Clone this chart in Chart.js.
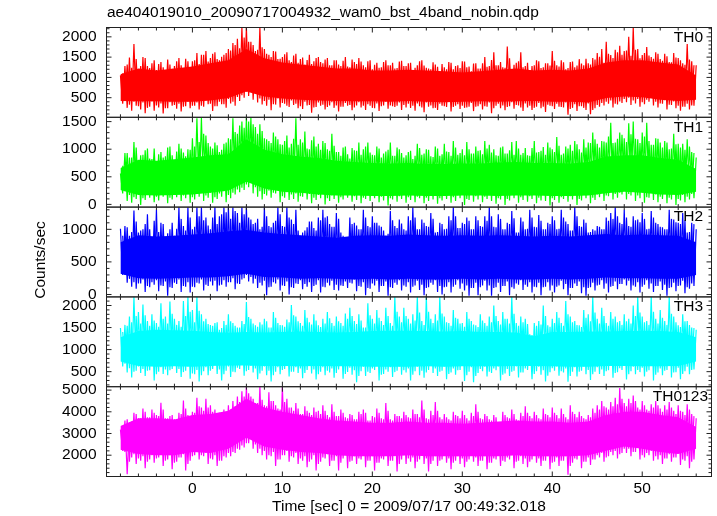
<!DOCTYPE html>
<html>
<head>
<meta charset="utf-8">
<title>ae404019010 bst 4band</title>
<script src="https://cdn.jsdelivr.net/npm/chart.js@4/dist/chart.umd.min.js"></script>
<style>
  html, body { margin: 0; padding: 0; background: #fff; }
  canvas { display: block; }
</style>
</head>
<body>
<canvas id="lc" width="717" height="516"></canvas>
<script>
/* peaks and dips, one row = 8 sec, half second steps from -8 */
const th0High = [
  1050,1280,1490,1820,1100,1500,1280,1350,1180,1380,1120,1320,1280,1480,1150,1400,
  1400,1600,1560,1650,1480,1620,1420,1560,1700,1850,1950,2230,2230,1880,1650,2230,
  1700,1560,1650,1450,1500,1620,1380,1580,1450,1320,1560,1400,1500,1350,1480,1300,
  1420,1280,1500,1250,1380,1480,1300,1400,1200,1360,1250,1420,1300,1220,1390,1280,
  1350,1180,1300,1420,1240,1200,1320,1150,1250,1380,1200,1300,1400,1250,1150,1350,
  1220,1500,1280,1620,1300,1250,1760,1200,1360,1620,1280,1180,1300,1400,1250,1350,
  1650,1300,1420,1200,1380,1250,1450,1300,1350,1480,1600,1700,1880,1550,1680,1780,
  1650,2000,2230,1700,1550,1750,1500,1620,1450,1580,1380,1600,1480,1350,1820,1400,
  1300];
const th0Low = [
  350,250,180,300,210,120,280,180,260,110,240,300,230,160,290,240,
  300,210,280,340,170,290,340,250,360,300,420,500,540,450,380,330,
  300,190,330,260,350,270,320,240,220,310,130,270,300,210,310,250,
  160,280,300,190,310,260,200,300,240,170,310,230,290,300,200,260,
  250,180,290,140,280,240,200,300,270,160,300,220,250,280,170,290,
  210,280,120,300,240,190,290,230,310,170,260,200,280,240,150,300,
  220,280,260,80,250,170,290,200,90,240,280,310,350,260,330,370,
  390,320,360,280,340,400,310,260,350,210,320,240,180,280,210,300,
  330];
const th0ShoulderTop = [
  1100,1320,1240,1450,1280,1480,1230,1420,1330,1250,1440,1210,1400,1300,1460,1240,
  1420,1330,1560,1390,1580,1450,1510,1600,1660,1800,1720,1980,1880,1800,1680,1740,
  1580,1500,1640,1460,1570,1420,1540,1360,1490,1430,1330,1480,1380,1440,1300,1420,
  1320,1410,1270,1440,1330,1390,1250,1420,1310,1240,1380,1300,1360,1230,1410,1280,
  1360,1240,1400,1290,1220,1370,1260,1330,1200,1360,1280,1230,1390,1270,1340,1220,
  1350,1260,1430,1300,1380,1240,1470,1310,1400,1250,1360,1280,1420,1230,1350,1290,
  1410,1270,1370,1230,1390,1290,1340,1460,1320,1440,1510,1360,1580,1480,1620,1560,
  1660,1530,1680,1470,1600,1540,1460,1580,1410,1520,1370,1490,1420,1310,1440,1300,
  1150];
const th0ShoulderBottom = [
  420,330,400,290,380,250,410,310,360,240,390,320,350,280,400,300,
  380,300,430,350,290,400,340,470,400,520,560,650,690,600,480,420,
  450,340,480,370,300,430,350,290,400,320,260,380,330,270,390,310,
  280,370,320,260,390,300,340,250,360,290,400,310,270,380,320,350,
  300,360,260,380,310,250,350,290,400,270,340,300,260,370,280,340,
  290,380,240,350,310,270,390,320,260,360,300,250,370,280,330,290,
  350,270,380,220,340,290,250,360,200,320,370,400,430,350,410,470,
  500,430,470,390,450,520,400,360,440,330,410,300,280,350,310,380,
  420];
const th1High = [
  560,930,850,1130,780,900,1010,820,760,950,870,1050,800,1100,940,1000,
  1200,1560,1570,1250,1050,1120,950,1100,1200,1560,1280,1500,1570,1570,1400,1450,
  1200,1150,1300,1180,1080,1250,1100,1560,1180,1320,1000,1230,1100,1150,1000,1280,
  950,880,1050,830,980,1120,1000,1120,900,1050,850,960,1120,880,1000,850,
  950,820,1100,900,1000,870,1050,880,1100,950,1150,900,1000,1130,920,1050,
  980,1150,1080,1000,880,1050,920,1130,1150,900,1020,880,1150,950,1040,1120,
  1000,1220,900,1050,1080,1150,1000,1180,1120,1300,1100,1150,1120,1480,1120,1300,
  1200,1470,1500,1180,1300,1480,1080,1200,1120,1150,1000,1280,1100,1100,1180,950,
  850];
const th1Low = [
  200,60,30,100,-10,80,120,40,70,140,20,90,130,60,110,30,
  90,140,60,120,30,100,140,40,110,180,220,260,310,200,140,90,
  160,120,200,40,120,80,100,50,140,90,20,80,110,0,60,100,
  30,90,120,50,80,20,100,60,110,40,70,-20,90,50,100,30,
  80,40,110,20,60,90,10,70,100,30,60,110,-10,80,50,90,
  40,100,60,10,90,-10,70,110,30,80,50,100,20,70,60,-20,
  80,30,100,50,90,-10,70,110,20,80,130,60,150,90,120,180,
  90,160,60,110,30,120,80,40,100,20,90,-10,70,40,90,110,
  160];
const th1ShoulderTop = [
  700,930,850,1030,890,980,830,1010,910,850,1030,890,960,1010,870,990,
  1050,1130,1280,1110,1010,1070,990,1120,1180,1310,1430,1390,1500,1450,1280,1330,
  1180,1110,1230,1090,1150,1030,1190,1080,1120,1010,1160,1050,990,1110,970,1060,
  950,1030,910,1020,970,900,1050,940,890,1010,920,990,880,1030,930,890,
  970,880,1020,920,990,860,1010,910,960,880,1030,930,890,1000,920,970,
  910,1010,940,890,1030,920,980,900,1010,930,890,1020,940,970,900,1030,
  950,1060,920,1010,970,1090,940,1030,1110,1180,1030,1140,1230,1110,1190,1260,
  1130,1270,1190,1110,1230,1150,1080,1190,1030,1120,1010,1090,1030,990,1050,930,
  750];
const th1ShoulderBottom = [
  240,170,130,200,110,180,210,140,170,230,120,190,220,160,200,130,
  190,230,160,210,130,200,240,170,210,270,300,360,400,310,240,190,
  250,210,280,150,220,180,200,150,230,190,120,170,200,110,160,190,
  130,190,210,150,180,120,190,160,200,140,170,110,190,150,200,130,
  180,140,200,120,160,190,110,170,190,130,160,200,100,180,150,190,
  140,200,160,110,190,100,170,200,130,180,150,190,120,170,160,110,
  180,130,200,150,190,100,170,200,120,180,220,160,240,190,210,260,
  190,250,160,210,130,220,180,140,200,120,190,100,170,140,190,210,
  230];
const th2High = [
  1010,1050,900,1290,950,1000,1230,880,1300,1100,850,1000,900,1340,1050,1340,
  1000,1340,1340,1180,1000,1340,1200,1340,1340,1340,1250,1340,1340,1150,1100,1000,
  1340,1050,1100,1340,1050,1340,1150,1300,900,980,1120,1020,1180,1300,1200,1040,
  1250,950,760,1180,1100,1000,1300,1050,1200,1100,1040,900,1280,1050,1150,1000,
  1200,1340,1000,1150,1050,1250,950,1100,1000,1200,1340,1020,1100,1180,1000,1200,
  1050,1200,1340,1040,1230,1000,1100,1280,950,1180,1000,1300,1040,1220,1000,1100,
  1200,1000,1300,1120,980,1340,1050,1150,950,1000,1050,1000,1180,1250,1340,1100,
  1300,1050,1200,1150,1250,1000,1280,1100,1040,1000,1300,1150,1100,1250,950,1100,
  1000];
const th2Low = [
  300,180,120,90,170,40,110,150,50,130,-20,100,160,40,120,30,
  110,170,60,130,140,50,150,120,190,80,160,250,200,170,100,140,
  -10,120,170,60,130,0,100,160,80,120,40,150,30,110,140,70,
  60,130,100,170,50,120,-10,90,140,40,130,-20,100,150,60,120,
  30,140,70,-10,110,150,40,0,120,30,150,90,60,-20,100,-10,
  140,60,-20,110,40,130,-10,90,150,70,120,30,110,-10,120,60,
  30,140,80,-10,100,130,20,-20,110,60,150,90,30,130,80,160,
  140,60,120,30,150,90,40,130,70,-20,110,50,140,20,90,130,
  250];
const th2ShoulderTop = [
  900,1030,960,1120,980,1080,1000,1130,960,1080,940,1100,1010,1160,980,1180,
  1040,1200,1140,1060,1180,1080,1230,1260,1160,1280,1100,1230,1180,1080,1160,1040,
  1200,1030,1130,1230,1040,1180,1080,980,950,1030,1120,980,1140,1180,1080,1040,
  1160,900,820,1080,1060,1000,1180,1030,1100,1060,980,930,1140,1020,1090,980,
  1140,1180,1000,1100,1040,1160,960,1080,1010,1140,1200,1020,1080,1130,1000,1140,
  1040,1130,1200,1030,1160,1000,1080,1170,950,1120,1010,1180,1030,1130,1000,1080,
  1140,1010,1180,1080,980,1200,1040,1100,960,980,1040,1000,1130,1160,1200,1080,
  1180,1040,1140,1110,1160,1010,1180,1080,1030,1000,1160,1110,1080,1140,960,1080,
  900];
const th2ShoulderBottom = [
  300,240,190,170,230,130,190,220,140,200,110,180,230,130,190,120,
  180,230,150,200,210,140,220,190,250,170,230,300,270,240,180,210,
  110,190,230,140,200,110,170,220,160,190,130,220,120,180,210,150,
  140,200,180,230,130,190,100,170,210,130,200,110,180,220,140,190,
  120,210,150,100,180,220,130,110,190,120,220,170,140,100,180,110,
  210,140,100,180,130,200,110,170,220,150,190,120,180,110,190,140,
  120,210,160,100,170,200,110,100,180,140,220,170,120,200,160,230,
  210,140,190,120,220,170,130,200,150,100,180,130,210,110,170,200,
  300];
const th3High = [
  1490,1560,1750,2195,1850,2020,1650,1800,1600,2050,1750,2090,1700,1650,2100,2195,
  1900,2195,1800,1700,1560,1600,1450,1650,1800,1600,1500,1650,2080,1700,1550,1620,
  1700,1500,1850,1600,1550,1680,2010,1750,1600,1900,1620,1800,1550,1700,1850,1600,
  1750,1600,1820,1950,1650,1800,1500,2050,1700,1900,1650,1950,1600,2195,1750,1950,
  1700,1800,2195,1650,2195,1700,1800,2195,1750,1600,1900,1700,1600,1850,1650,1550,
  1800,1600,1750,2000,1650,1850,1700,2195,1600,1750,1700,1350,1600,1650,2000,1550,
  1700,1850,1600,2100,1750,1650,1550,1900,1800,2195,1700,1950,1600,1850,1750,1650,
  1800,1700,2000,2195,1750,1650,2195,1700,1900,1650,2195,1750,1550,1800,1650,1500,
  1450];
const th3Low = [
  620,480,370,520,470,400,530,300,500,450,420,560,470,380,520,340,
  440,280,510,420,560,450,300,520,380,490,560,410,540,480,330,520,
  420,280,500,440,560,390,500,470,350,540,460,320,500,420,480,360,
  550,340,490,430,260,510,400,470,540,300,450,500,380,520,430,480,
  300,510,420,360,540,470,400,520,330,480,430,540,290,500,260,470,
  510,390,470,530,300,460,400,520,370,480,540,330,510,430,280,490,
  520,410,480,270,500,390,520,440,310,500,450,400,530,360,490,540,
  320,510,440,490,390,530,300,480,420,540,370,490,330,510,440,550,
  560];
const th3ShoulderTop = [
  1400,1540,1620,1760,1590,1780,1540,1660,1520,1700,1590,1810,1560,1520,1760,1860,
  1620,1880,1640,1580,1540,1620,1490,1560,1640,1540,1500,1580,1740,1590,1520,1570,
  1640,1500,1720,1560,1520,1620,1780,1640,1540,1720,1570,1660,1510,1590,1710,1540,
  1640,1540,1700,1760,1580,1660,1500,1780,1590,1720,1560,1760,1540,1860,1620,1760,
  1590,1660,1840,1560,1860,1600,1660,1820,1620,1540,1720,1590,1520,1700,1570,1510,
  1660,1540,1620,1760,1570,1700,1590,1810,1540,1620,1580,1330,1540,1570,1760,1520,
  1600,1720,1540,1800,1620,1560,1510,1720,1640,1840,1590,1760,1540,1700,1620,1560,
  1640,1590,1760,1840,1620,1560,1860,1590,1720,1560,1810,1620,1510,1640,1560,1490,
  1400];
const th3ShoulderBottom = [
  680,580,500,620,560,520,640,440,600,550,530,650,560,490,620,460,
  540,420,600,520,650,550,440,620,500,590,650,510,630,570,460,620,
  520,420,600,540,650,500,600,570,470,630,550,440,600,520,570,470,
  640,450,590,530,400,610,500,570,630,430,550,600,490,620,530,570,
  430,610,520,480,630,570,500,620,450,570,530,630,420,600,400,560,
  610,500,570,620,430,560,500,620,480,570,630,450,610,530,410,580,
  620,510,570,400,600,500,620,540,440,600,550,510,630,470,580,630,
  440,610,540,590,500,630,430,570,520,630,480,590,450,610,540,640,
  650];
const th0123High = [
  3180,3600,3500,3950,3700,4150,3750,4100,3850,4420,3700,3800,3650,3950,4520,3850,
  4000,4650,4200,4600,4300,4100,3950,4100,4300,4500,4700,4950,5157,4700,4400,5157,
  4300,4900,4500,4150,5157,4600,4200,4400,3900,4250,3950,4200,4050,4300,3850,4350,
  3800,4100,3750,3900,3650,4000,4100,3600,3800,4150,3700,4400,3650,3900,3800,4000,
  3750,4100,3900,4520,3700,4050,4450,3750,3900,3650,4000,3800,4050,3700,3950,4350,
  3700,3900,3650,3850,3500,4000,3750,4100,3650,3950,4250,3800,4000,3700,4150,3850,
  4200,3850,4150,3750,4300,3900,4000,3700,3850,4150,4300,4500,4200,4450,4650,5100,
  4400,4600,4750,4200,4500,4100,4350,4500,4150,4300,4450,4050,4300,4000,4350,3900,
  3700];
const th0123Low = [
  2200,1120,1900,1600,1750,1400,1800,1650,1900,1500,1800,1350,1700,1900,1300,1750,
  2000,1800,1950,1600,1800,1500,1750,1900,1950,2100,2250,2350,2550,2300,2100,2000,
  1800,1950,1500,1800,2000,1700,1900,1600,1750,1450,1800,1300,1700,1850,1500,1750,
  1300,1850,1400,1750,1600,1800,1450,1750,1300,1650,1800,1500,1750,1250,1800,1600,
  1700,1400,1800,1600,1250,1750,1500,1800,1650,1350,1750,1600,1450,1800,1700,1500,
  1750,1350,1650,1800,1500,1700,1800,1400,1750,1600,1450,1800,1650,1500,1750,1350,
  1700,1500,1750,1100,1650,1800,1400,1700,1550,1800,1900,1700,1950,2000,1850,2100,
  2100,1950,2150,1800,1900,2000,1750,1800,1600,1850,1700,1900,1550,1750,1400,1800,
  2100];
const th0123ShoulderTop = [
  3150,3650,3550,3900,3700,4000,3750,3950,3800,4100,3700,3850,3650,3900,4150,3800,
  3950,4250,4050,4200,4000,3900,3850,4000,4100,4250,4450,4700,4850,4600,4400,4550,
  4250,4500,4300,4100,4450,4200,4050,4150,3900,4050,3850,4000,3900,4050,3750,4000,
  3800,3950,3700,3850,3650,3900,3950,3600,3750,3950,3650,4050,3600,3800,3700,3850,
  3700,3900,3750,4100,3650,3850,4050,3650,3750,3600,3850,3700,3850,3600,3800,4000,
  3650,3800,3600,3750,3500,3850,3700,3900,3600,3800,3950,3700,3850,3650,3900,3750,
  3950,3700,3900,3650,4000,3750,3800,3650,3750,3950,4100,4250,4100,4250,4350,4600,
  4250,4400,4500,4100,4300,4050,4200,4300,4000,4100,4200,3900,4050,3850,4100,3800,
  3400];
const th0123ShoulderBottom = [
  2150,1700,2050,1850,1950,1700,2000,1850,2050,1750,2000,1650,1900,2050,1600,1950,
  2150,2000,2100,1850,2000,1750,1950,2100,2150,2300,2450,2550,2750,2500,2300,2200,
  2000,2150,1800,2000,2200,1950,2100,1850,1950,1700,2000,1600,1900,2050,1750,1950,
  1650,2050,1700,1950,1850,2000,1750,1950,1650,1850,2000,1750,1950,1600,2000,1850,
  1900,1700,2000,1850,1600,1950,1750,2000,1850,1650,1950,1850,1700,2000,1900,1750,
  1950,1650,1850,2000,1750,1900,2000,1700,1950,1850,1700,2000,1850,1750,1950,1650,
  1900,1750,1950,1500,1850,2000,1700,1900,1800,2000,2100,1900,2150,2200,2050,2300,
  2300,2150,2350,2000,2100,2200,1950,2000,1850,2050,1900,2100,1800,1950,1700,2000,
  2250];

/* solid part of each curve, every 2 sec from -8 */
const th0CoreTop = [1080,1220,1170,1220,1270,1350,1420,1700,1470,1370,1320,1270,1220,1220,1170,1170,1190,1170,1150,1120,1150,1190,1220,1170,1190,1170,1220,1370,1420,1420,1370,1320,1050];
const th0CoreBottom = [420,410,410,400,400,430,490,650,530,480,450,430,420,410,410,400,420,400,390,400,410,400,410,420,400,400,380,490,530,510,450,420,450];
const th1CoreTop = [660,810,790,820,850,890,910,1180,990,910,870,840,790,770,750,740,750,730,730,740,740,760,770,750,750,740,770,870,890,890,840,810,640];
const th1CoreBottom = [260,170,160,170,180,210,250,410,290,230,210,180,160,160,150,150,160,150,150,160,160,150,160,160,150,150,160,200,230,210,180,170,230];
const th2CoreTop = [800,910,890,900,920,940,970,990,950,930,910,890,870,900,910,900,920,910,900,910,900,910,900,890,900,890,910,930,910,920,910,900,800];
const th2CoreBottom = [320,250,240,250,260,260,280,320,270,260,240,250,240,230,240,230,240,230,230,240,230,240,230,230,240,230,240,260,250,250,240,240,300];
const th3CoreTop = [1280,1420,1450,1440,1430,1400,1380,1400,1390,1400,1410,1400,1390,1400,1420,1430,1430,1420,1410,1420,1400,1400,1390,1300,1400,1400,1410,1410,1420,1430,1420,1400,1280];
const th3CoreBottom = [730,630,610,620,610,630,640,640,630,630,620,630,620,620,610,610,610,620,610,620,620,620,630,630,620,610,610,630,630,620,620,630,730];
const th0123CoreTop = [3350,3700,3700,3650,3850,3900,4050,4600,4200,4000,3850,3700,3600,3550,3500,3500,3550,3500,3500,3450,3500,3550,3600,3550,3550,3500,3550,3850,4000,4000,3850,3750,3300];
const th0123CoreBottom = [2250,2050,2000,2000,2150,2100,2300,2800,2400,2250,2150,2100,2000,1950,1950,1950,2000,1950,1950,1950,1950,1950,2000,1950,1950,1950,2000,2200,2400,2300,2150,2050,2300];

const xMajorTicks = [0,10,20,30,40,50];
const yLabels0 = [500,1000,1500,2000];
const yLabels1 = [0,500,1000,1500];
const yLabels2 = [0,500,1000];
const yLabels3 = [500,1000,1500,2000];
const yLabels4 = [2000,3000,4000,5000];

const TITLE  = 'ae404019010_20090717004932_wam0_bst_4band_nobin.qdp';
const XTITLE = 'Time [sec] 0 = 2009/07/17 00:49:32.018';
const YTITLE = 'Counts/sec';
const FONT   = '"Liberation Sans", Arial, sans-serif';
const FSIZE  = 15.5;
const INK    = '#222';

const panels = [
  { id:'y0', name:'TH0',    color:'#ff0000', hi:th0High,    lo:th0Low,    st:th0ShoulderTop,    sb:th0ShoulderBottom,    top:th0CoreTop,    bot:th0CoreBottom,    min:17,   max:2230, labels:yLabels0, minor:100 },
  { id:'y1', name:'TH1',    color:'#00ff00', hi:th1High,    lo:th1Low,    st:th1ShoulderTop,    sb:th1ShoulderBottom,    top:th1CoreTop,    bot:th1CoreBottom,    min:-49,  max:1578, labels:yLabels1, minor:100 },
  { id:'y2', name:'TH2',    color:'#0000ff', hi:th2High,    lo:th2Low,    st:th2ShoulderTop,    sb:th2ShoulderBottom,    top:th2CoreTop,    bot:th2CoreBottom,    min:-37,  max:1341, labels:yLabels2, minor:100 },
  { id:'y3', name:'TH3',    color:'#00ffff', hi:th3High,    lo:th3Low,    st:th3ShoulderTop,    sb:th3ShoulderBottom,    top:th3CoreTop,    bot:th3CoreBottom,    min:159,  max:2195, labels:yLabels3, minor:100 },
  { id:'y4', name:'TH0123', color:'#ff00ff', hi:th0123High, lo:th0123Low, st:th0123ShoulderTop, sb:th0123ShoulderBottom, top:th0123CoreTop, bot:th0123CoreBottom, min:1018, max:5157, labels:yLabels4, minor:200 }
];

/* zigzag high, low, high ... so the line looks like the raw curve */
function zigzag(hi, lo, shift) {
  const pts = [];
  hi.forEach((v, i) => {
    const t = -8 + i * 0.5 + shift;
    pts.push({ x: t, y: v });
    if (i < hi.length - 1) pts.push({ x: t + 0.25, y: lo[i] });
  });
  return pts;
}

const datasets = [];
const yScales  = {};

panels.forEach(p => {
  datasets.push({ yAxisID:p.id, data:p.bot.map((v,i) => ({x:-8+i*2, y:v})), borderWidth:0, pointRadius:0, fill:false });
  datasets.push({ yAxisID:p.id, data:p.top.map((v,i) => ({x:-8+i*2, y:v})), borderWidth:0, pointRadius:0, fill:'-1', backgroundColor:p.color });
  datasets.push({ yAxisID:p.id, data:zigzag(p.hi, p.lo, 0), borderColor:p.color, borderWidth:1.2, pointRadius:0, tension:0, fill:false });
  datasets.push({ yAxisID:p.id, data:zigzag(p.st.slice(0, -1), p.sb, 0.25), borderColor:p.color, borderWidth:1.2, pointRadius:0, tension:0, fill:false });
});

/* first scale of a stack goes to the bottom, so build them from TH0123 up */
panels.slice().reverse().forEach(p => {
  yScales[p.id] = {
    type: 'linear',
    position: 'left',
    stack: 'lc',
    stackWeight: 1,
    min: p.min,
    max: p.max,
    grid: { display:false, drawTicks:false },
    border: { display:false },
    afterFit: s => { s.width = 106.5; },
    afterBuildTicks: s => {
      const t = [];
      for (let v = Math.ceil(p.min / p.minor) * p.minor; v <= p.max; v += p.minor) t.push({ value:v });
      s.ticks = t;
    },
    ticks: {
      autoSkip: false,
      padding: 10,
      color: '#000',
      font: { family:FONT, size:FSIZE },
      callback: v => p.labels.includes(v) ? String(v) : ''
    }
  };
});

/* qdp style frame: inward ticks on all four sides of each panel, panel names */
const framePlugin = {
  id: 'frame',
  afterDatasetsDraw(chart) {
    const { ctx, scales } = chart;
    const xs = scales.x;
    ctx.save();
    ctx.strokeStyle = INK;
    ctx.lineWidth = 1;
    panels.forEach(p => {
      const ys = scales[p.id];
      ctx.strokeRect(xs.left, ys.top, xs.right - xs.left, ys.bottom - ys.top);
      ys.ticks.forEach(t => {
        const py  = ys.getPixelForValue(t.value);
        const len = p.labels.includes(t.value) ? 5 : 3;
        ctx.beginPath();
        ctx.moveTo(xs.left, py);  ctx.lineTo(xs.left + len, py);
        ctx.moveTo(xs.right, py); ctx.lineTo(xs.right - len, py);
        ctx.stroke();
      });
      xs.ticks.forEach(t => {
        const px  = xs.getPixelForValue(t.value);
        const len = xMajorTicks.includes(t.value) ? 5 : 3;
        ctx.beginPath();
        ctx.moveTo(px, ys.top);    ctx.lineTo(px, ys.top + len);
        ctx.moveTo(px, ys.bottom); ctx.lineTo(px, ys.bottom - len);
        ctx.stroke();
      });
      ctx.fillStyle = '#000';
      ctx.font = FSIZE + 'px ' + FONT;
      ctx.textAlign = 'right';
      ctx.textBaseline = 'middle';
      ctx.fillText(p.name, p.name === 'TH0123' ? 708 : 703, ys.top + 10);
    });
    ctx.textAlign = 'left';
    ctx.fillText(TITLE, 107, 13);
    ctx.translate(41, 260);
    ctx.rotate(-Math.PI / 2);
    ctx.textAlign = 'center';
    ctx.fillText(YTITLE, 0, 0);
    ctx.restore();
  }
};

new Chart(document.getElementById('lc'), {
  type: 'line',
  data: { datasets },
  plugins: [framePlugin],
  options: {
    responsive: false,
    animation: false,
    events: [],
    layout: { padding: { top:27.5, right:5.5, bottom:0, left:0 } },
    plugins: {
      legend: { display:false },
      tooltip: { enabled:false }
    },
    scales: {
      x: {
        type: 'linear',
        position: 'bottom',
        min: -9.55,
        max: 57.7,
        grid: { display:false, drawTicks:false },
        border: { display:false },
        afterFit: s => { s.height = 39.5; },
        afterBuildTicks: s => {
          const t = [];
          for (let v = -8; v <= 56; v += 2) t.push({ value:v });
          s.ticks = t;
        },
        ticks: {
          autoSkip: false,
          maxRotation: 0,
          padding: 3,
          color: '#000',
          font: { family:FONT, size:FSIZE },
          callback: v => xMajorTicks.includes(v) ? String(v) : ''
        },
        title: {
          display: true,
          text: XTITLE,
          color: '#000',
          font: { family:FONT, size:FSIZE },
          padding: { top:0, bottom:0 }
        }
      },
      ...yScales
    }
  }
});
</script>
</body>
</html>
